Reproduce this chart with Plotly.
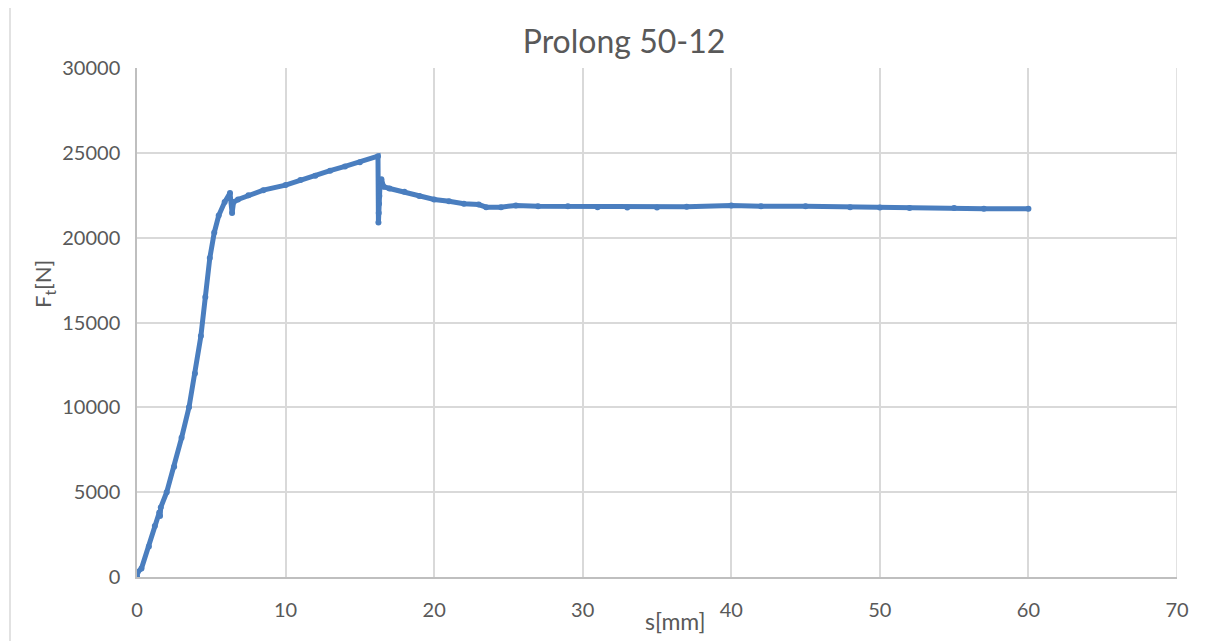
import plotly.graph_objects as go

s_mm = [0, 0.05, 0.3, 0.8, 1.2, 1.5, 1.55, 1.6, 2.0, 2.5, 3.0, 3.5, 3.9, 4.3, 4.6, 4.9,
        5.2, 5.5, 5.9, 6.26, 6.4, 6.5, 6.8, 7.5, 8.5, 10, 11, 12, 13, 14, 15, 16.22,
        16.25, 16.27, 16.29, 16.31, 16.35, 16.45, 16.6, 17, 18, 19, 20, 21, 22, 23,
        23.5, 24.5, 25.5, 27, 29, 31, 33, 35, 37, 40, 42, 45, 48, 50, 52, 55, 57, 60]
force_N = [0, 300, 500, 1800, 3000, 3800, 3600, 4100, 5000, 6500, 8200, 10000, 12000,
           14200, 16500, 18800, 20300, 21300, 22100, 22630, 21450, 22100, 22250, 22500,
           22800, 23100, 23400, 23650, 23950, 24200, 24450, 24800,
           20900, 21450, 22000, 22450, 23000, 23450, 23000, 22900, 22700, 22450, 22250,
           22150, 22000, 21950, 21800, 21800, 21900, 21850, 21850, 21800, 21780, 21780,
           21820, 21900, 21850, 21850, 21800, 21780, 21750, 21750, 21700, 21700]

title_text = "Prolong 50-12"
x_ticks = [0, 10, 20, 30, 40, 50, 60, 70]
y_ticks = [0, 5000, 10000, 15000, 20000, 25000, 30000]
y_ticklabels = ["0", "5000", "10000", "15000", "20000", "25000", "30000"]

FONT = "Lato, 'Open Sans', sans-serif"
color = "#4a7ebf"
OFF = 8  # page body margin

fig = go.Figure()
fig.add_trace(go.Scatter(
    x=s_mm, y=force_N, mode="lines+markers",
    line=dict(color=color, width=5),
    marker=dict(color=color, size=6),
    showlegend=False,
))

W, H = 1208, 633
l, t = 137 - OFF, 68 - OFF
pw, ph = 1040, 509
r = W - l - pw
b = H - t - ph

def px(x):
    return (x - OFF - l) / pw

def py(y):
    return (H - b - (y - OFF)) / ph

fig.update_layout(
    width=W, height=H,
    margin=dict(l=l, r=r, t=t, b=b, autoexpand=False),
    paper_bgcolor="white", plot_bgcolor="white",
    font=dict(family=FONT, color="#595959", size=20),
    title=dict(text=title_text, x=(624 - OFF) / W, xref="container", xanchor="center",
               y=1 - (42 - OFF) / H, yref="container", yanchor="middle",
               font=dict(size=32, color="#595959", family=FONT)),
    xaxis=dict(range=[0, 70], tickvals=x_ticks, showgrid=True, gridcolor="#d9d9d9",
               gridwidth=1.5, showline=True, linecolor="#bfbfbf", linewidth=1.5,
               zeroline=False, ticks="", ticklabelstandoff=14,
               tickfont=dict(size=20, color="#595959")),
    yaxis=dict(range=[0, 30000], tickvals=y_ticks, ticktext=y_ticklabels,
               showgrid=True, gridcolor="#d9d9d9",
               gridwidth=1.5, showline=True, linecolor="#bfbfbf", linewidth=1.5,
               zeroline=False, ticks="", ticklabelstandoff=11,
               tickfont=dict(size=20, color="#595959")),
)

fig.add_shape(type="line", xref="x", yref="y", x0=70, x1=70, y0=0, y1=30000,
              line=dict(color="#d9d9d9", width=1.5), layer="below")

# outer chart border
fig.add_shape(type="rect", xref="paper", yref="paper",
              x0=px(10), x1=px(1240), y0=py(670), y1=py(7),
              line=dict(color="#d9d9d9", width=1.5), fillcolor="rgba(0,0,0,0)")

fig.add_annotation(text="F<sub>t</sub>[N]", xref="paper", yref="paper",
                   x=px(44), y=py(284), textangle=-90,
                   showarrow=False, xanchor="center", yanchor="middle",
                   font=dict(size=22, color="#595959", family=FONT))
fig.add_annotation(text="s[mm]", xref="paper", yref="paper",
                   x=px(675), y=py(621),
                   showarrow=False, xanchor="center", yanchor="middle",
                   font=dict(size=23, color="#595959", family=FONT))

fig.write_html("out.html")
